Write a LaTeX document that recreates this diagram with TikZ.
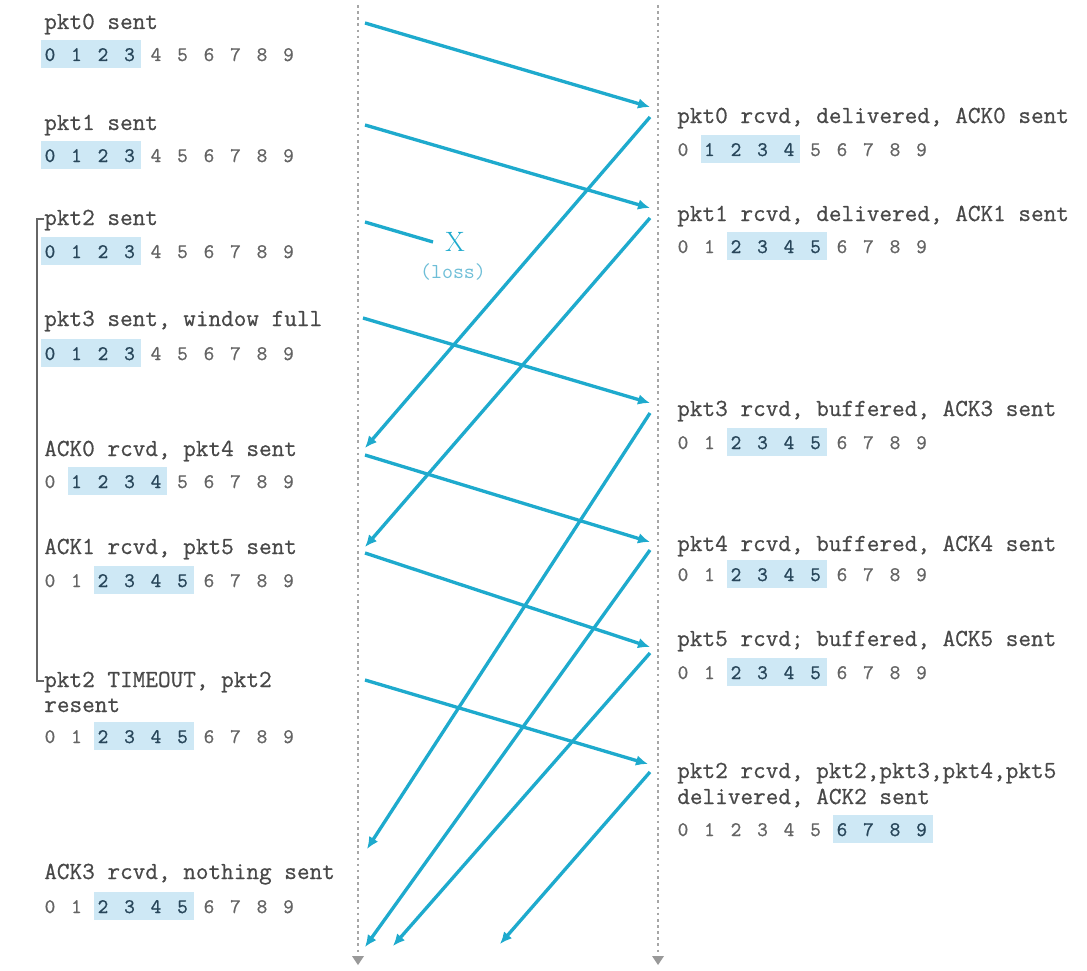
\documentclass[tikz,border=0pt]{standalone}
\usepackage{fontspec}
\usetikzlibrary{arrows.meta,calc}
\newfontfamily\courfont{Latin Modern Mono}[FakeBold=0.7]
\newfontfamily\digfont{Latin Modern Mono}[FakeBold=0.9]
\definecolor{cy}{RGB}{30,170,205}
\definecolor{cyl}{RGB}{110,190,215}
\definecolor{hl}{RGB}{206,232,245}
\definecolor{tx}{RGB}{72,72,72}
\definecolor{dd}{RGB}{40,70,90}
\definecolor{dl}{RGB}{100,100,100}
\tikzset{
  txt/.style={anchor=base west, inner sep=0pt, text=tx, font=\fontsize{18.4}{22}\selectfont\courfont},
  digd/.style={anchor=base, inner sep=0pt, text=dd, font=\fontsize{15.5}{18}\selectfont\digfont},
  digl/.style={anchor=base, inner sep=0pt, text=dl, font=\fontsize{15.5}{18}\selectfont\digfont},
  msg/.style={draw=cy, line width=2.5pt, -{Latex[length=9pt,width=8pt]}},
  lost/.style={draw=cy, line width=2.5pt},
  tline/.style={draw=black!35, line width=1.3pt, dash pattern=on 2pt off 2.6pt},
  brk/.style={draw=black!60, line width=1.3pt},
}
\newcommand\digrow[5]{%
  \fill[hl] ({#2+#4*26.5-9},{#3-21}) rectangle ({#2+#5*26.5+11},{#3+7});
  \foreach \i in {0,...,9}{%
    \ifnum\i<#4\relax \def\dc{digl}\else\ifnum\i>#5\relax \def\dc{digl}\else\def\dc{digd}\fi\fi
    \node[\dc] (#1-\i) at ({#2+\i*26.5},#3) {\i};
  }%
}
\begin{document}
\begin{tikzpicture}[x=0.75pt,y=-0.75pt]
\useasboundingbox (0,0) rectangle (1087,970);
% timelines
\coordinate (ltop) at (358,5);
\coordinate (lbot) at (358,955);
\coordinate (rtop) at (658,5);
\coordinate (rbot) at (658,955);
\draw[tline] (ltop) -- (lbot);
\draw[tline] (rtop) -- (rbot);
\fill[black!40] (352,956) -- (364,956) -- (358,965) -- cycle;
\fill[black!40] (652,956) -- (664,956) -- (658,965) -- cycle;

% left texts
\node[txt] (l0) at (44,29) {pkt0 sent};
\digrow{ld0}{50}{61}{0}{3}
\node[txt] (l1) at (44,130) {pkt1 sent};
\digrow{ld1}{50}{162}{0}{3}
\node[txt] (l2) at (44,225) {pkt2 sent};
\digrow{ld2}{50}{258}{0}{3}
\node[txt] (l3) at (44,326) {pkt3 sent, window full};
\digrow{ld3}{50}{360}{0}{3}
\node[txt] (l4) at (44,456) {ACK0 rcvd, pkt4 sent};
\digrow{ld4}{50}{488}{1}{4}
\node[txt] (l5) at (44,554) {ACK1 rcvd, pkt5 sent};
\digrow{ld5}{50}{587}{2}{5}
\node[txt] (lt) at (44,687) {pkt2 TIMEOUT, pkt2};
\node[txt] (ltb) at (44,712) {resent};
\digrow{ld6}{50}{743}{2}{5}
\node[txt] (l7) at (44,879) {ACK3 rcvd, nothing sent};
\digrow{ld7}{50}{913}{2}{5}

% right texts
\node[txt] (r0) at (677,123) {pkt0 rcvd, delivered, ACK0 sent};
\digrow{rd0}{683}{156}{1}{4}
\node[txt] (r1) at (677,221) {pkt1 rcvd, delivered, ACK1 sent};
\digrow{rd1}{683}{253}{2}{5}
\node[txt] (r3) at (677,416) {pkt3 rcvd, buffered, ACK3 sent};
\digrow{rd3}{683}{449}{2}{5}
\node[txt] (r4) at (677,551) {pkt4 rcvd, buffered, ACK4 sent};
\digrow{rd4}{683}{581}{2}{5}
\node[txt] (r5) at (677,646) {pkt5 rcvd; buffered, ACK5 sent};
\digrow{rd5}{683}{679}{2}{5}
\node[txt] (r2) at (677,778) {pkt2 rcvd, pkt2,pkt3,pkt4,pkt5};
\node[txt] (r2b) at (677,804) {delivered, ACK2 sent};
\digrow{rd2}{683}{836}{6}{9}

% bracket
\draw[brk] ($(l2.base west)+(0,-6)$) -- ++(-7,0) |- ($(lt.base west)+(0,-6)$);

% endpoints
\coordinate (s0) at (365,23);   \coordinate (e0) at (650,107);
\coordinate (s1) at (365,125);  \coordinate (e1) at (650,208);
\coordinate (s2) at (365,222);  \coordinate (e2) at (433,242);
\coordinate (s3) at (363,318);  \coordinate (e3) at (650,403);
\coordinate (s4) at (365,455);  \coordinate (e4) at (650,542);
\coordinate (s5) at (365,553);  \coordinate (e5) at (650,647);
\coordinate (s6) at (365,680);  \coordinate (e6) at (648,764);
\coordinate (a0) at (650,117);  \coordinate (b0) at (365,448);
\coordinate (a1) at (650,218);  \coordinate (b1) at (365,547);
\coordinate (a3) at (650,413);  \coordinate (b3) at (367,849);
\coordinate (a4) at (650,550);  \coordinate (b4) at (365,947);
\coordinate (a5) at (650,653);  \coordinate (b5) at (393,946);
\coordinate (a2) at (650,772);  \coordinate (b2) at (500,944);

% packets
\draw[msg] (s0) -- (e0);
\draw[msg] (s1) -- (e1);
\draw[lost] (s2) -- (e2);
\draw[msg] (s3) -- (e3);
\draw[msg] (s4) -- (e4);
\draw[msg] (s5) -- (e5);
\draw[msg] (s6) -- (e6);
% acks
\draw[msg] (a0) -- (b0);
\draw[msg] (a1) -- (b1);
\draw[msg] (a3) -- (b3);
\draw[msg] (a4) -- (b4);
\draw[msg] (a5) -- (b5);
\draw[msg] (a2) -- (b2);

% loss
\node[inner sep=0pt, text=cy, font=\fontsize{21}{21}\selectfont] (x) at (455,242) {X};
\node[inner sep=0pt, text=cyl, font=\fontsize{16}{18}\selectfont\ttfamily] (loss) at (453,272) {(loss)};
\end{tikzpicture}
\end{document}
